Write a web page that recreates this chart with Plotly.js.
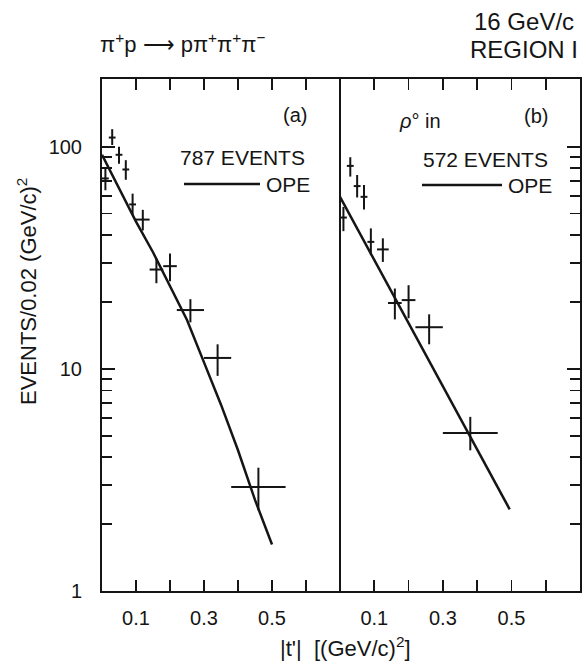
<!DOCTYPE html>
<html>
<head>
<meta charset="utf-8">
<script src="https://cdn.plot.ly/plotly-3.0.1.min.js"></script>
<style>
  html, body { margin: 0; padding: 0; background: #fff; }
  #chart { width: 586px; height: 664px; }
</style>
</head>
<body>
<div id="chart"></div>
<script>
// |t'| distributions for pi+ p -> p pi+ pi+ pi- at 16 GeV/c (region I)

// Panel (a): all events
const tA        = [0.01, 0.03, 0.05, 0.07, 0.09, 0.12, 0.16, 0.20, 0.26, 0.34, 0.46];
const binHalfA  = [0.01, 0.01, 0.01, 0.01, 0.01, 0.02, 0.02, 0.02, 0.04, 0.04, 0.08];
const eventsA   = [72, 110, 92, 79, 55, 47, 28, 29, 18.4, 11.2, 2.94];
const errUpA    = [9, 10, 8, 8, 6.5, 5, 3.4, 4.1, 2.2, 1.7, 0.65];
const errDownA  = [8.3, 8.2, 8.2, 8, 5.6, 5, 3.7, 4.2, 2.2, 1.9, 0.63];

// Panel (b): rho0 in
const tB        = [0.01, 0.03, 0.05, 0.07, 0.09, 0.125, 0.16, 0.20, 0.26, 0.38];
const binHalfB  = [0.01, 0.01, 0.01, 0.01, 0.01, 0.017, 0.02, 0.02, 0.04, 0.08];
const eventsB   = [48, 82, 66.5, 59.5, 37.3, 34.5, 19.8, 20.4, 15.4, 5.15];
const errUpB    = [5.6, 7.7, 8.1, 7.7, 5.6, 4.2, 3.2, 3.4, 2.2, 0.93];
const errDownB  = [6.3, 8.6, 7.4, 7.3, 4.8, 4.2, 3.1, 3.5, 2.5, 0.85];

// One-pion-exchange predictions
const opeTA = [0, 0.05, 0.10, 0.15, 0.20, 0.25, 0.30, 0.35, 0.40, 0.45, 0.50];
const opeA  = [92, 65, 46, 33.5, 23.7, 16.6, 10.7, 6.9, 4.3, 2.57, 1.62];
const opeTB = [0, 0.05, 0.10, 0.15, 0.20, 0.25, 0.30, 0.35, 0.40, 0.45, 0.495];
const opeB  = [59.5, 42.9, 30.9, 22.3, 16.0, 11.6, 8.3, 6.0, 4.32, 3.11, 2.33];

// Axis ticks
const xTickVals  = [0.1, 0.2, 0.3, 0.4, 0.5, 0.6];
const xTickText  = ['0.1', '', '0.3', '', '0.5', ''];
const yMajorVals = [1, 10, 100];
const yMajorText = ['1', '10', '100'];
const yMinorVals = [2, 3, 4, 5, 6, 7, 8, 9, 20, 30, 40, 50, 60, 70, 80, 90];

const W = 586, H = 664;
const M = { l: 102, r: 6, t: 79, b: 73 };
const PW = W - M.l - M.r, PH = H - M.t - M.b;
const px = x => (x - M.l) / PW;          // pixel -> paper x
const py = y => (H - M.b - y) / PH;      // pixel -> paper y
const split = px(340);

const INK = '#151515';
const FONT = 'Liberation Sans, Arial, sans-serif';

function points(x, y, half, up, down, xa, ya) {
  return {
    type: 'scatter', mode: 'markers', x: x, y: y, xaxis: xa, yaxis: ya,
    marker: { size: 2, color: INK },
    error_x: { type: 'data', array: half, width: 0, thickness: 2, color: INK },
    error_y: { type: 'data', symmetric: false, array: up, arrayminus: down,
               width: 0, thickness: 2, color: INK },
    hoverinfo: 'x+y', showlegend: false
  };
}
function curve(x, y, xa, ya) {
  return {
    type: 'scatter', mode: 'lines', x: x, y: y, xaxis: xa, yaxis: ya,
    line: { color: INK, width: 2.5 }, showlegend: false
  };
}

const data = [
  points(tA, eventsA, binHalfA, errUpA, errDownA, 'x', 'y'),
  curve(opeTA, opeA, 'x', 'y'),
  points(tB, eventsB, binHalfB, errUpB, errDownB, 'x2', 'y2'),
  curve(opeTB, opeB, 'x2', 'y2')
];

const xCommon = {
  range: [0, 0.7], showgrid: false, zeroline: false,
  showline: true, linecolor: INK, linewidth: 2, mirror: 'ticks',
  ticks: 'inside', ticklen: 11, tickwidth: 1.8, tickcolor: INK,
  tickvals: xTickVals, ticktext: xTickText, ticklabelstandoff: 8,
  tickfont: { family: FONT, size: 20, color: INK }
};
const yCommon = {
  type: 'log', range: [0, 2.305], showgrid: false, zeroline: false,
  showline: true, linecolor: INK, linewidth: 2,
  ticks: 'inside', ticklen: 13, tickwidth: 1.8, tickcolor: INK,
  tickvals: yMajorVals, ticktext: yMajorText,
  minor: { tickvals: yMinorVals, ticks: 'inside', ticklen: 10, tickwidth: 1.6, tickcolor: INK },
  tickfont: { family: FONT, size: 20, color: INK }
};

function label(text, x, y, xanchor, size, extra) {
  return Object.assign({
    text: text, xref: 'paper', yref: 'paper', x: px(x), y: py(y),
    xanchor: xanchor, yanchor: 'middle', showarrow: false,
    font: { family: FONT, size: size, color: INK }
  }, extra || {});
}

const layout = {
  width: W, height: H, margin: M,
  paper_bgcolor: '#fff', plot_bgcolor: '#fff',
  showlegend: false,
  xaxis: Object.assign({}, xCommon, { domain: [0, split], anchor: 'y' }),
  xaxis2: Object.assign({}, xCommon, { domain: [split, 1], anchor: 'y2' }),
  yaxis: Object.assign({}, yCommon, { anchor: 'x', side: 'left', ticklabelstandoff: 14 }),
  yaxis2: Object.assign({}, yCommon, { anchor: 'x2', side: 'right', overlaying: 'y', showticklabels: false }),
  shapes: [
    // divider between the two panels
    { type: 'line', xref: 'paper', yref: 'paper', x0: split, x1: split, y0: 0, y1: 1,
      line: { color: INK, width: 2 } },
    // legend strokes for the OPE curves
    { type: 'line', xref: 'paper', yref: 'paper', x0: px(184), x1: px(260), y0: py(184), y1: py(184),
      line: { color: INK, width: 2.5 } },
    { type: 'line', xref: 'paper', yref: 'paper', x0: px(422), x1: px(502), y0: py(185), y1: py(185),
      line: { color: INK, width: 2.5 } }
  ],
  annotations: [
    label('π<sup>+</sup>p ⟶ pπ<sup>+</sup>π<sup>+</sup>π<sup>−</sup>', 98, 43, 'left', 22),
    label('16 GeV/c', 576, 21, 'right', 24),
    label('REGION I', 580, 49, 'right', 24),
    label('(a)', 295, 115, 'center', 20),
    label('787 EVENTS', 307, 157, 'right', 21),
    label('OPE', 264, 184, 'left', 21),
    label('(b)', 536, 116, 'center', 20),
    label('<i>ρ</i>° in', 420, 121, 'center', 20),
    label('572 EVENTS', 550, 159, 'right', 21),
    label('OPE', 506, 185, 'left', 21),
    label('EVENTS/0.02 (GeV/c)<sup>2</sup>', 27, 292, 'center', 22, { textangle: -90 }),
    label("|t'|  [(GeV/c)<sup>2</sup>]", 345, 647, 'center', 22)
  ]
};

Plotly.newPlot('chart', data, layout, { staticPlot: true, displayModeBar: false });
</script>
</body>
</html>
